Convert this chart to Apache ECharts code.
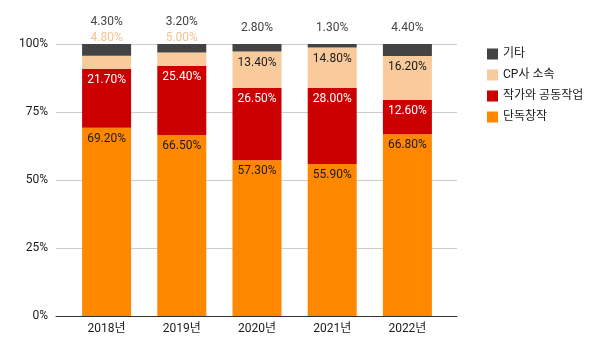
<!DOCTYPE html>
<html><head><meta charset="utf-8">
<script src="https://cdn.jsdelivr.net/npm/echarts@6/dist/echarts.min.js"></script>
<style>html,body{margin:0;padding:0;background:#fff}#c{width:602px;height:358px}</style>
</head><body><div id="c"></div>
<script>
const categories = ['2018년', '2019년', '2020년', '2021년', '2022년'];
const solo = [69.2, 66.5, 57.3, 55.9, 66.8];        // 단독창작
const collab = [21.7, 25.4, 26.5, 28.0, 12.6];      // 작가와 공동작업
const cp = [4.8, 5.0, 13.4, 14.8, 16.2];            // CP사 소속
const etc = [4.3, 3.2, 2.8, 1.3, 4.4];              // 기타
const yTicks = [0, 25, 50, 75, 100];

const FONT = "Roboto, Arial, 'Noto Sans CJK KR', sans-serif";
const fmt = v => v.toFixed(2) + '%';
const SMALL = 6;

const chart = echarts.init(document.getElementById('c'), null, {renderer: 'canvas'});
const inside = (color) => ({
  show: true, position: 'insideTop', distance: 5, color: color,
  fontSize: 12, fontFamily: FONT,
  formatter: p => fmt(p.value)
});
chart.setOption({
  animation: false,
  textStyle: {fontFamily: FONT},
  grid: [
    {left: 56, right: 145, top: 44, bottom: 42},
    {left: 69, right: 157, top: 44, bottom: 42}
  ],
  xAxis: [
    {gridIndex: 0, type: 'value', min: 0, max: 1, axisLabel: {show: false}, splitLine: {show: false}, axisTick: {show: false},
     axisLine: {show: true, lineStyle: {color: '#333', width: 1}}},
    {gridIndex: 1, type: 'category', data: categories, axisLine: {show: false}, axisTick: {show: false},
     axisLabel: {color: '#1a1a1a', fontSize: 12, fontFamily: FONT, margin: 7}}
  ],
  yAxis: [
    {gridIndex: 0, type: 'value', min: 0, max: 100, interval: 25,
     axisLabel: {color: '#1a1a1a', fontSize: 12, fontFamily: FONT, margin: 8, formatter: v => v + '%'},
     splitLine: {lineStyle: {color: '#ccc'}}, axisLine: {show: false}, axisTick: {show: false}},
    {gridIndex: 1, type: 'value', min: 0, max: 100, show: false, splitLine: {show: false}}
  ],
  legend: {
    orient: 'vertical', left: 482, top: 43, itemWidth: 11, itemHeight: 11, itemGap: 9,
    icon: 'rect', textStyle: {color: '#1a1a1a', fontSize: 12, fontFamily: FONT},
    data: ['기타', 'CP사 소속', '작가와 공동작업', '단독창작']
  },
  series: [
    {name: '단독창작', type: 'bar', stack: 's', xAxisIndex: 1, yAxisIndex: 1, barWidth: 49,
     itemStyle: {color: '#ff8800'}, label: inside('#1a1a1a'), data: solo},
    {name: '작가와 공동작업', type: 'bar', stack: 's', xAxisIndex: 1, yAxisIndex: 1, barWidth: 49,
     itemStyle: {color: '#cc0000'}, label: inside('#fff'), data: collab},
    {name: 'CP사 소속', type: 'bar', stack: 's', xAxisIndex: 1, yAxisIndex: 1, barWidth: 49,
     itemStyle: {color: '#f9cb9c'},
     label: Object.assign(inside('#1a1a1a'), {formatter: p => p.value < SMALL ? '' : fmt(p.value)}),
     data: cp},
    {name: '기타', type: 'bar', stack: 's', xAxisIndex: 1, yAxisIndex: 1, barWidth: 49,
     itemStyle: {color: '#434343'},
     label: {show: true, position: 'top', distance: 8, fontSize: 12, fontFamily: FONT, color: '#444',
       formatter: p => cp[p.dataIndex] < SMALL ? '{t|' + fmt(p.value) + '}\n{c|' + fmt(cp[p.dataIndex]) + '}' : '{t|' + fmt(p.value) + '}',
       rich: {t: {color: '#444', fontSize: 12, lineHeight: 16, fontFamily: FONT},
              c: {color: '#f6c28f', fontSize: 12, lineHeight: 16, fontFamily: FONT}}},
     data: etc.map((v, i) => cp[i] < SMALL ? {value: v, label: {distance: -2}} : v)}
  ]
});
</script></body></html>
